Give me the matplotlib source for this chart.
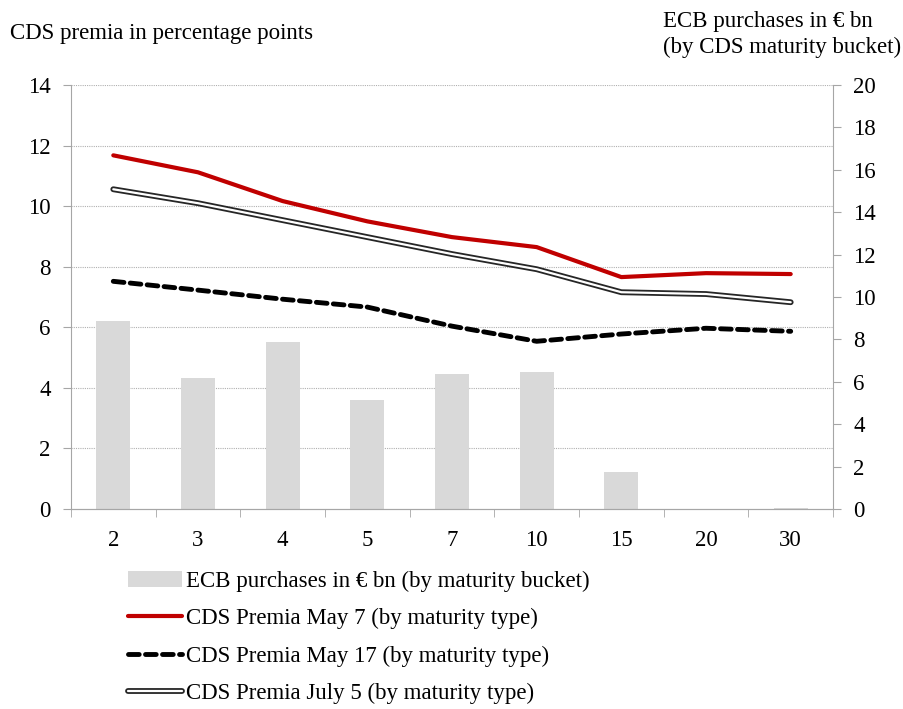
import numpy as np
import matplotlib.pyplot as plt
from matplotlib.patches import Patch
from matplotlib.legend_handler import HandlerTuple

plt.rcParams['font.family'] = ['Liberation Serif', 'DejaVu Serif']

# maturities (years)
maturities = ['2', '3', '4', '5', '7', '10', '15', '20', '30']

# ECB purchases in EUR bn (right axis)
ecb_purchases = [8.87, 6.18, 7.88, 5.14, 6.37, 6.46, 1.75, 0.0, 0.05]

# CDS premia in percentage points (left axis)
cds_may7 = [11.68, 11.12, 10.17, 9.50, 8.98, 8.65, 7.66, 7.79, 7.76]
cds_may17 = [7.52, 7.23, 6.93, 6.67, 6.04, 5.54, 5.78, 5.97, 5.87]
cds_jul5 = [10.56, 10.10, 9.54, 8.98, 8.42, 7.92, 7.16, 7.10, 6.83]

x = np.arange(len(maturities))
grey = '#a6a6a6'
fs = 16.5

fig = plt.figure(figsize=(9.04, 7.09), dpi=100)
ax = fig.add_axes([0.0785, 0.282, 0.843, 0.598])
ax2 = ax.twinx()

# bars on the right axis, behind the lines
ax2.set_zorder(0)
ax.set_zorder(1)
ax.patch.set_visible(False)

ax2.set_ylim(0, 20)
ax.set_ylim(0, 14)
ax.set_xlim(-0.5, len(maturities) - 0.5)

# horizontal grid (left axis ticks) drawn under the bars
for t in np.arange(2, 15, 2):
    ax2.axhline(t * 20 / 14, color='#b0b0b0', lw=0.8, ls=(0, (1, 1)), zorder=0)

bars = ax2.bar(x, ecb_purchases, width=0.4, color='#d9d9d9', zorder=2)

l1, = ax.plot(x, cds_may7, color='#c00000', lw=3, solid_capstyle='round')
l2, = ax.plot(x, cds_may17, color='black', lw=3.5, ls=(0, (2.2, 1.3)),
              dash_capstyle='round')
l3a, = ax.plot(x, cds_jul5, color='#262626', lw=4.2, solid_capstyle='round')
l3b, = ax.plot(x, cds_jul5, color='white', lw=1.6, solid_capstyle='round')

ax.set_yticks(np.arange(0, 15, 2))
ax2.set_yticks(np.arange(0, 21, 2))
ax.set_xticks(x)
ax.set_xticklabels(maturities)
ax.set_xticks(np.arange(-0.5, len(maturities), 1), minor=True)
ax.tick_params(axis='x', which='major', length=0, pad=15, labelsize=fs)
ax.tick_params(axis='x', which='minor', length=5.5, color=grey, direction='out')
ax.tick_params(axis='y', length=5.5, color=grey, labelsize=fs, pad=9)
ax2.tick_params(axis='y', length=5.5, color=grey, labelsize=fs, pad=9)

for a in (ax, ax2):
    a.spines['top'].set_visible(False)
    for s in ('left', 'right', 'bottom'):
        a.spines[s].set_color(grey)
ax2.spines['left'].set_visible(False)
ax.spines['right'].set_visible(False)

fig.text(0.011, 0.953, 'CDS premia in percentage points', fontsize=fs,
         ha='left', va='center')
fig.text(0.733, 0.984, 'ECB purchases in € bn\n(by CDS maturity bucket)',
         fontsize=fs, ha='left', va='top', linespacing=1.3)

handles = [Patch(facecolor='#d9d9d9'), l1, l2, (l3a, l3b)]
labels = ['ECB purchases in € bn (by maturity bucket)',
          'CDS Premia May 7 (by maturity type)',
          'CDS Premia May 17 (by maturity type)',
          'CDS Premia July 5 (by maturity type)']
fig.legend(handles, labels, loc='upper left', bbox_to_anchor=(0.1415, 0.195),
           frameon=False, fontsize=fs, handlelength=2.35, handletextpad=0.2,
           labelspacing=0.71, borderaxespad=0, borderpad=0,
           handler_map={tuple: HandlerTuple(ndivide=1)})

fig.savefig('out.png', dpi=100)
